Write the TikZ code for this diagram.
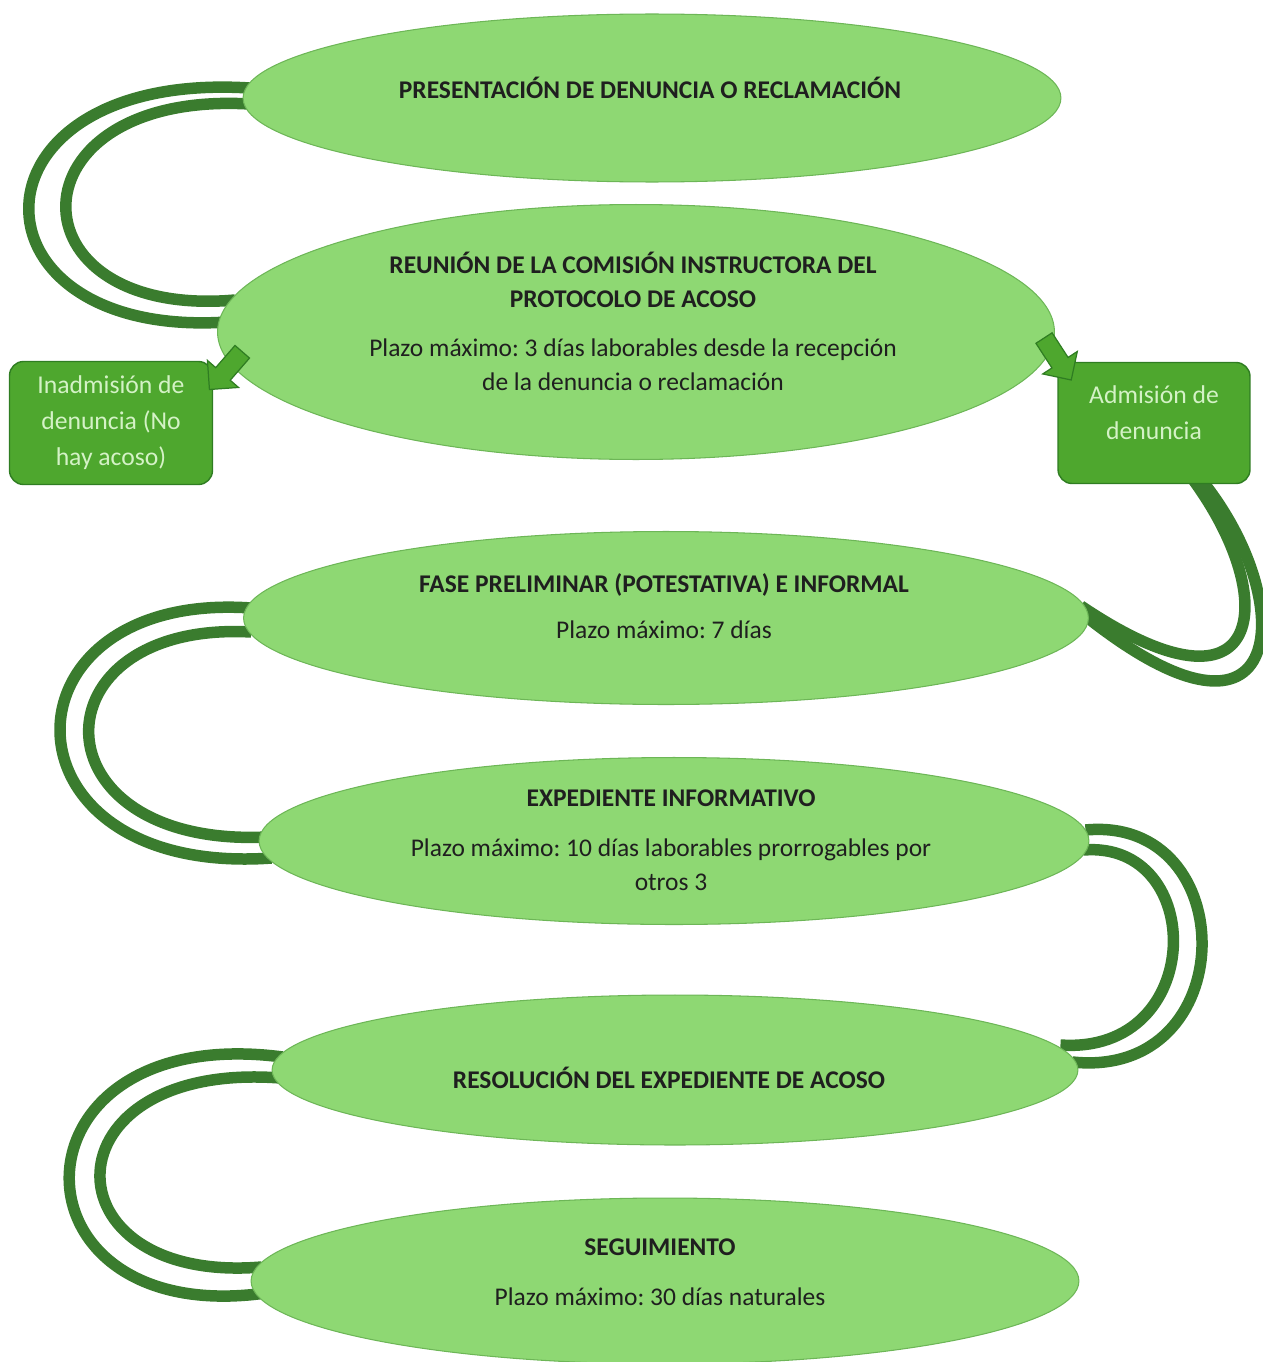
\documentclass[tikz,border=0pt]{standalone}
\usepackage{fontspec}
\setmainfont{Carlito}
\usetikzlibrary{calc}
\usetikzlibrary{shapes.geometric,shapes.arrows}
\usetikzlibrary{backgrounds}
\frenchspacing

\definecolor{phasefill}{HTML}{8ED873}
\definecolor{phaseedge}{HTML}{6DB657}
\definecolor{boxfill}{HTML}{4EA72E}
\definecolor{boxedge}{HTML}{2F7D22}
\definecolor{boxtext}{HTML}{D4F2C6}
\definecolor{strand}{HTML}{3A7C2E}

\tikzset{
  phase/.style={ellipse, fill=phasefill, draw=phaseedge, line width=0.6pt, inner sep=0pt},
  phasetext/.style={align=center, text=black!88, font=\fontsize{14.5}{19.4}\selectfont},
  decision/.style={rectangle, rounded corners=0.28cm, fill=boxfill, draw=boxedge, line width=0.8pt, inner sep=0pt},
  decisiontext/.style={align=center, text=boxtext, font=\fontsize{14.6}{20.5}\selectfont},
  link/.style={draw=strand, line width=0.23cm},
  pointer/.style={single arrow, fill=boxfill, draw=boxedge, line width=0.7pt, inner sep=0.18cm,
    single arrow head extend=0.22cm, minimum height=1.0cm}
}

\begin{document}
\begin{tikzpicture}[x=0.02cm, y=-0.02cm]
\useasboundingbox (0,0) rectangle (1263,1362);

% fases
\node[phase, minimum width=16.36cm, minimum height=3.36cm] (pres) at (652,98) {};
\node[phase, minimum width=16.74cm, minimum height=5.1cm] (reun) at (636,332) {};
\node[phase, minimum width=16.9cm, minimum height=3.46cm] (fase) at (666,618) {};
\node[phase, minimum width=16.6cm, minimum height=3.34cm] (exp) at (674,841) {};
\node[phase, minimum width=16.12cm, minimum height=3.0cm] (res) at (675,1070) {};
\node[phase, minimum width=16.56cm, minimum height=3.32cm] (seg) at (665,1281) {};

% admision / inadmision
\node[decision, minimum width=4.06cm, minimum height=2.46cm] (inad) at (111,423) {};
\node[decision, minimum width=3.84cm, minimum height=2.42cm] (adm) at (1154,423) {};
\node[pointer, rotate=229] (inad-a) at (229,367) {};
\node[pointer, rotate=-57] (adm-a) at (1055,355) {};

% textos
\node[phasetext] (pres-t) at (650,88) {\bfseries PRESENTACIÓN DE DENUNCIA O RECLAMACIÓN};
\node[phasetext] (reun-t) at (633,321) {\bfseries REUNIÓN DE LA COMISIÓN INSTRUCTORA DEL\\
  \bfseries PROTOCOLO DE ACOSO\\[8.5pt]
  Plazo máximo: 3 días laborables desde la recepción\\ de la denuncia o reclamación};
\node[phasetext] (fase-t) at (664,606) {\bfseries FASE PRELIMINAR (POTESTATIVA) E INFORMAL\\[6.8pt]
  Plazo máximo: 7 días};
\node[phasetext] (exp-t) at (671,840) {\bfseries EXPEDIENTE INFORMATIVO\\[9pt]
  Plazo máximo: 10 días laborables prorrogables por\\ otros 3};
\node[phasetext] (res-t) at (669,1078) {\bfseries RESOLUCIÓN DEL EXPEDIENTE DE ACOSO};
\node[phasetext] (seg-t) at (660,1272) {\bfseries SEGUIMIENTO\\[9pt] Plazo máximo: 30 días naturales};
\node[decisiontext] (inad-t) at (111,423) {Inadmisión de\\ denuncia (No\\ hay acoso)};
\node[decisiontext] (adm-t) at (1154,413) {Admisión de\\ denuncia};

% enlaces dobles
\begin{scope}[on background layer]
\draw[link] ($(pres.west)+(7,-10)$) .. controls (-41,70) and (-41,340) .. ($(reun.west)+(10,-10)$);
\draw[link] ($(pres.west)+(7,6)$) .. controls (7,90) and (7,320) .. ($(reun.west)+(18,-32)$);
\draw[link] ($(adm.south)+(46,-6)$) .. controls (1300,600) and (1290,780) .. ($(fase.east)+(-6,-4)$);
\draw[link] ($(adm.south)+(38,-6)$) .. controls (1282,600) and (1265,730) .. ($(fase.east)+(-8,-12)$);
\draw[link] ($(fase.west)+(8,-10)$) .. controls (-7,590) and (-7,878) .. ($(exp.west)+(13,17)$);
\draw[link] ($(fase.west)+(8,14)$) .. controls (32,620) and (32,848) .. ($(exp.west)+(8,-4)$);
\draw[link] ($(exp.east)+(-4,-11)$) .. controls (1243,815) and (1243,1080) .. ($(res.east)+(-6,-8)$);
\draw[link] ($(exp.east)+(-6,9)$) .. controls (1207,840) and (1207,1055) .. ($(res.east)+(-18,-25)$);
\draw[link] ($(res.west)+(11,-13)$) .. controls (1,1020) and (1,1330) .. ($(seg.west)+(15,12)$);
\draw[link] ($(res.west)+(9,8)$) .. controls (43,1060) and (43,1285) .. ($(seg.west)+(11,-14)$);
\end{scope}
\end{tikzpicture}
\end{document}
